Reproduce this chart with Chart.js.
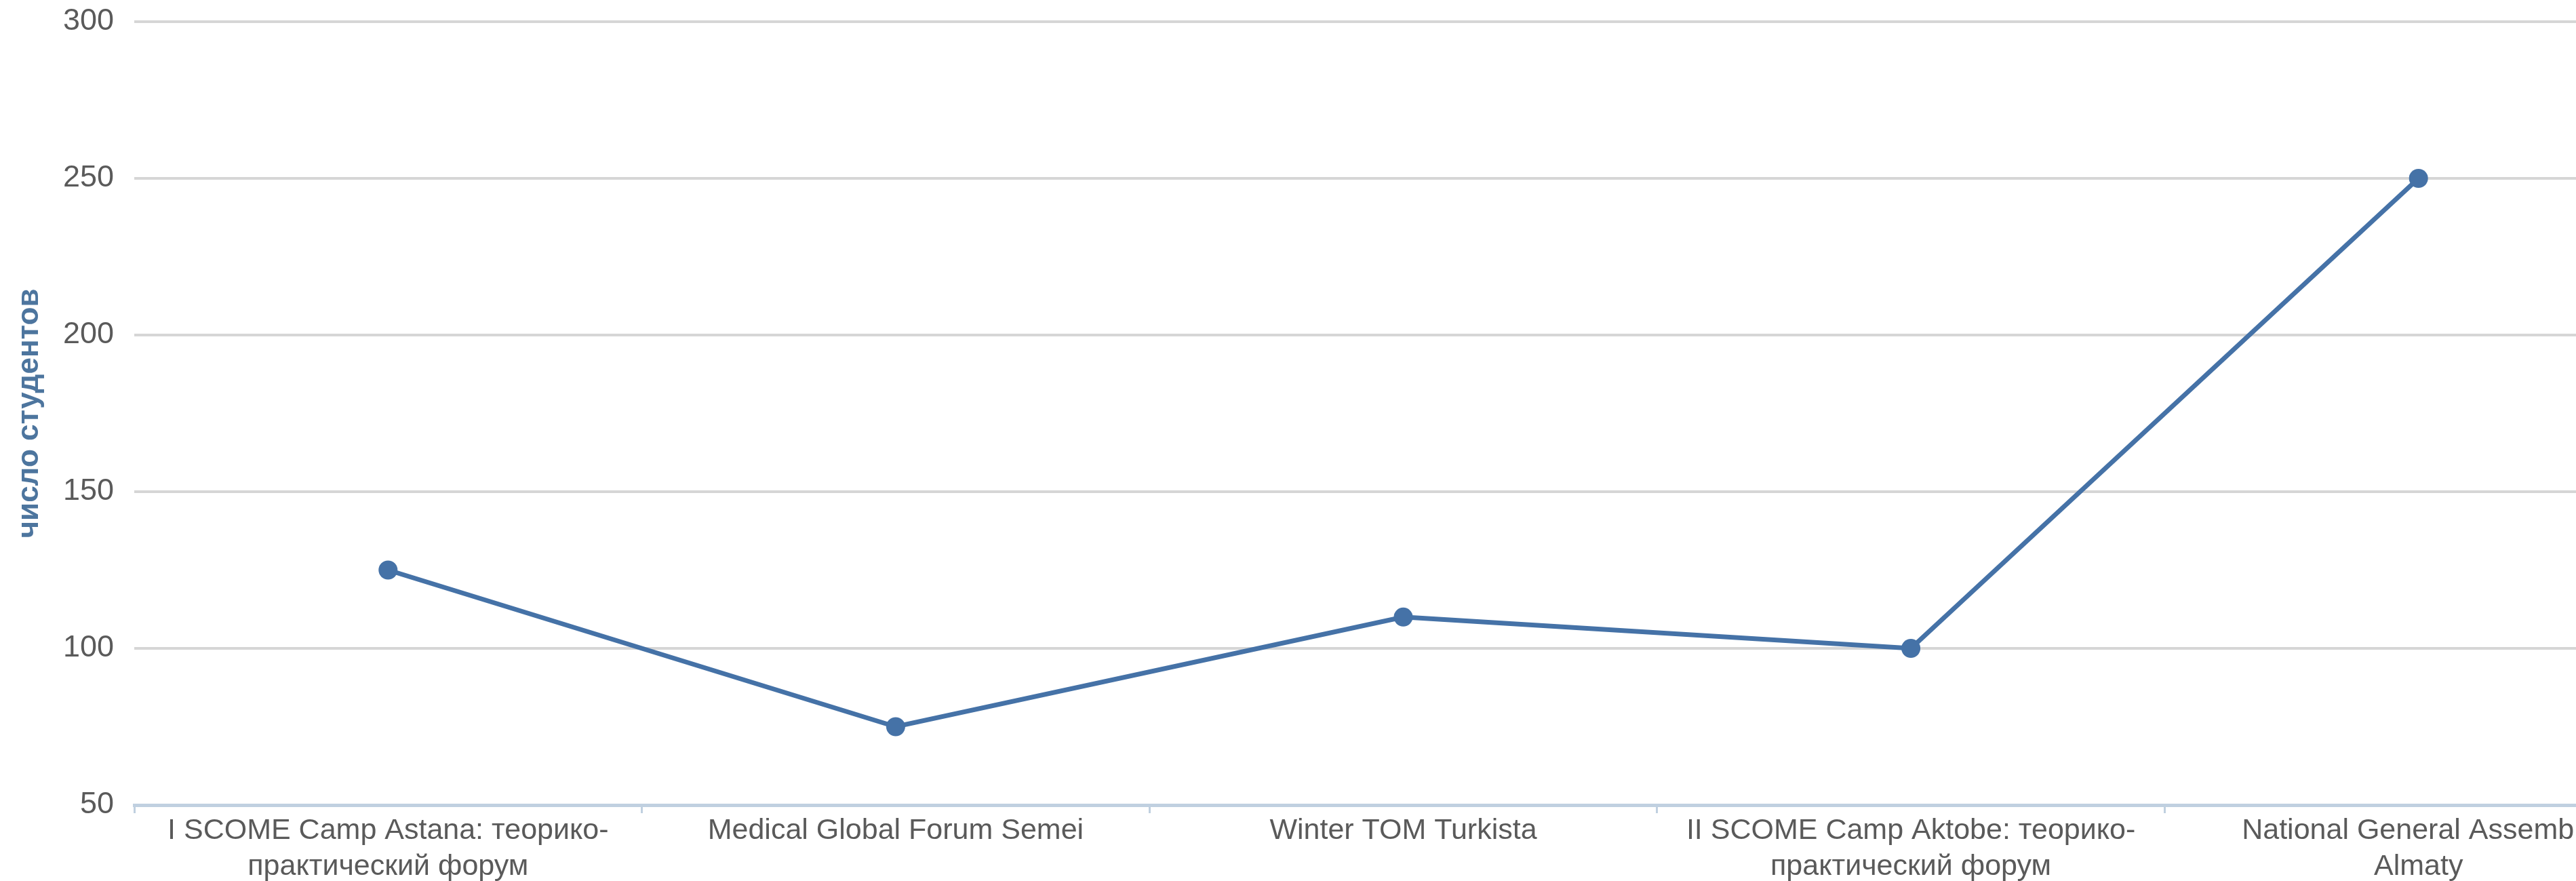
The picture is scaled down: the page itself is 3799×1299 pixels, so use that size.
<!DOCTYPE html>
<html>
<head>
<meta charset="utf-8">
<script src="https://cdn.jsdelivr.net/npm/chart.js@4/dist/chart.umd.min.js"></script>
<style>
  html, body { margin: 0; padding: 0; background: #ffffff; overflow: hidden; }
  #wrap { width: 3960px; height: 1299px; }
</style>
</head>
<body>
<div id="wrap"><canvas id="c" width="3960" height="1299"></canvas></div>
<script>
const categories = [
  ["I SCOME Camp Astana: теорико-", "практический форум"],
  ["Medical Global Forum Semei"],
  ["Winter TOM Turkista"],
  ["II SCOME Camp Aktobe: теорико-", "практический форум"],
  ["National General Assembly", "Almaty"]
];
const students = [125, 75, 110, 100, 250];
const yTicks = [50, 100, 150, 200, 250, 300];
const yTitle = "число студентов";

const FONT = "'Liberation Sans', Arial, sans-serif";

new Chart(document.getElementById('c'), {
  type: 'line',
  data: {
    labels: categories,
    datasets: [{
      data: students,
      borderColor: '#4572A7',
      backgroundColor: '#4572A7',
      borderWidth: 7,
      pointRadius: 14,
      pointBackgroundColor: '#4572A7',
      pointBorderColor: '#4572A7',
      pointBorderWidth: 0,
      tension: 0,
      fill: false
    }]
  },
  options: {
    responsive: false,
    animation: false,
    events: [],
    layout: { padding: { left: 13, top: 32, right: 19, bottom: 0 } },
    plugins: { legend: { display: false }, tooltip: { enabled: false } },
    scales: {
      x: {
        type: 'category',
        offset: true,
        grid: {
          display: true,
          drawOnChartArea: false,
          drawTicks: true,
          tickLength: 12,
          color: '#C0D0E0',
          lineWidth: 3,
          offset: true
        },
        border: { display: true, color: '#C0D0E0', width: 5 },
        ticks: {
          autoSkip: false,
          maxRotation: 0,
          minRotation: 0,
          padding: 0,
          color: '#5a5a5a',
          font: { family: FONT, size: 43, lineHeight: 1.23 }
        },
        afterFit: (s) => { s.height = 112; }
      },
      y: {
        min: yTicks[0],
        max: yTicks[yTicks.length - 1],
        afterBuildTicks: (s) => { s.ticks = yTicks.map(v => ({ value: v })); },
        grid: {
          color: '#d6d6d6',
          lineWidth: 4,
          drawTicks: true,
          tickLength: 30,
          tickColor: 'rgba(0,0,0,0)'
        },
        border: { display: false },
        ticks: {
          padding: 0,
          color: '#5a5a5a',
          font: { family: FONT, size: 45 }
        },
        title: {
          display: true,
          text: yTitle,
          color: '#4d759e',
          font: { family: FONT, size: 44, weight: 'bold' }
        },
        afterFit: (s) => { s.width = 185; }
      }
    }
  }
});
</script>
</body>
</html>
